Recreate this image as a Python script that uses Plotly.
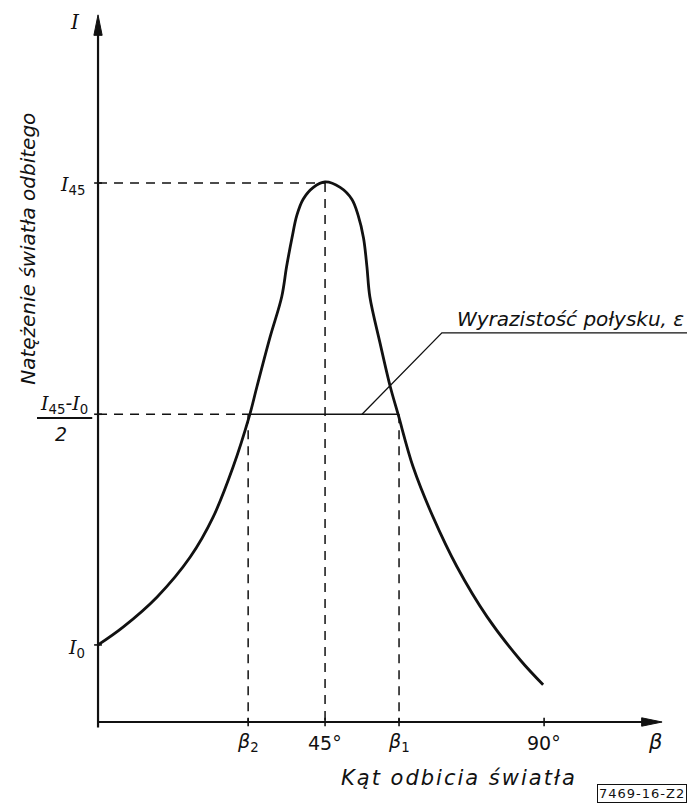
import plotly.graph_objects as go

# ---------------- data ----------------
beta_curve = [-1.64, 3.5, 10.5, 17.3, 22.0, 26.1, 29.4, 31.0, 33.7, 36.1, 37.1, 38.2, 39.2, 40.5, 42.6, 45.0,
              48.1, 50.5, 51.8, 52.9, 53.6, 54.2, 56.3, 58.4, 60.0, 63.1, 67.2, 72.1, 78.3, 85.1, 89.8]
I_curve = [0.143, 0.176, 0.232, 0.306, 0.380, 0.473, 0.566, 0.622, 0.714, 0.789, 0.845, 0.898, 0.940, 0.970, 0.992, 1.002,
           0.992, 0.970, 0.940, 0.898, 0.845, 0.789, 0.703, 0.622, 0.571, 0.473, 0.380, 0.288, 0.195, 0.115, 0.069]

x_tick_vals = [29.2, 45.0, 60.2, 90.0]
x_tick_text = ["<i>β</i><sub>2</sub>", "45°", "<i>β</i><sub>1</sub>", "90°"]

I0 = 0.143
I45 = 1.0
I_half = 0.571
beta2 = 29.2
beta_peak = 45.0
beta1 = 60.2

y_axis_x = -1.64
x_axis_end = 114.24
y_axis_top = 1.312

leader_x = [52.6, 69.0, 121.0]
leader_y = [I_half, 0.722, 0.722]

title_y = "Natężenie światła odbitego"
title_x = "Kąt odbicia światła"
leader_text = "Wyrazistość połysku, ε"
code_text = "7469-16-Z2"

FONT = "DejaVu Sans"
SERIF = "DejaVu Serif"
BLACK = "#111111"

XR = [-3.70, 121.0]
YR = [-0.01484, 1.3247]


def xp(v):
    return (v - XR[0]) / (XR[1] - XR[0])


def Ilab(sub):
    s = '<span style="font-family:%s"><i>I</i></span>' % SERIF
    if sub:
        s += "<sub>%s</sub>" % sub
    return s


def spaced(t, px):
    return '<span style="letter-spacing:%dpx"><i>%s</i></span>' % (px, t)


fig = go.Figure()

DASH = "9px,7px"
DL = dict(color=BLACK, width=1.5, dash=DASH)

# dashed guide lines
fig.add_trace(go.Scatter(x=[y_axis_x, beta_peak], y=[I45, I45], mode="lines", line=DL, hoverinfo="skip"))
fig.add_trace(go.Scatter(x=[beta_peak, beta_peak], y=[I45, 0], mode="lines", line=DL, hoverinfo="skip"))
fig.add_trace(go.Scatter(x=[y_axis_x, beta2], y=[I_half, I_half], mode="lines", line=DL, hoverinfo="skip"))
fig.add_trace(go.Scatter(x=[beta2, beta2], y=[I_half, 0], mode="lines", line=DL, hoverinfo="skip"))
fig.add_trace(go.Scatter(x=[beta1, beta1], y=[I_half, 0], mode="lines", line=DL, hoverinfo="skip"))

# solid half-width line
fig.add_trace(go.Scatter(x=[beta2, beta1], y=[I_half, I_half], mode="lines",
                         line=dict(color=BLACK, width=1.5), hoverinfo="skip"))

# leader line
fig.add_trace(go.Scatter(x=leader_x, y=leader_y, mode="lines",
                         line=dict(color=BLACK, width=1.3), hoverinfo="skip"))

# main curve
fig.add_trace(go.Scatter(x=beta_curve, y=I_curve, mode="lines",
                         line=dict(color=BLACK, width=2.8, shape="spline", smoothing=1.0),
                         hoverinfo="skip"))

# axes
fig.add_trace(go.Scatter(x=[y_axis_x, y_axis_x], y=[-0.01, y_axis_top - 0.03], mode="lines",
                         line=dict(color=BLACK, width=2.2), hoverinfo="skip"))
fig.add_trace(go.Scatter(x=[y_axis_x, x_axis_end - 3], y=[0, 0], mode="lines",
                         line=dict(color=BLACK, width=2.2), hoverinfo="skip"))

# tick marks
tx, ty = [], []
for v in x_tick_vals:
    tx += [v, v, None]
    ty += [-0.008, 0.008, None]
for v in [I0, I_half, I45]:
    tx += [y_axis_x - 0.8, y_axis_x + 0.8, None]
    ty += [v, v, None]
fig.add_trace(go.Scatter(x=tx, y=ty, mode="lines", line=dict(color=BLACK, width=1.6),
                         hoverinfo="skip"))

# arrowheads
shapes = [
    dict(type="path", xref="x", yref="y",
         path="M %f,%f L %f,%f L %f,%f Z" % (y_axis_x, y_axis_top, y_axis_x - 0.85, y_axis_top - 0.038,
                                            y_axis_x + 0.85, y_axis_top - 0.038),
         fillcolor=BLACK, line=dict(color=BLACK, width=1)),
    dict(type="path", xref="x", yref="y",
         path="M %f,%f L %f,%f L %f,%f Z" % (x_axis_end, 0, x_axis_end - 4.2, 0.0078,
                                            x_axis_end - 4.2, -0.0078),
         fillcolor=BLACK, line=dict(color=BLACK, width=1)),
    # fraction bar
    dict(type="line", xref="paper", yref="y", x0=-0.084, x1=0.007, y0=0.564, y1=0.564,
         line=dict(color=BLACK, width=1.8)),
]

ann = []
TF = dict(family=FONT, size=19, color=BLACK)
for v, t in zip(x_tick_vals, x_tick_text):
    ann.append(dict(x=xp(v), y=-0.018, xref="paper", yref="paper", text=t, showarrow=False,
                    font=TF, xanchor="center", yanchor="middle"))
ann.append(dict(x=0.934, y=-0.0166, xref="paper", yref="paper", text="<i>β</i>", showarrow=False,
                font=dict(family=FONT, size=21, color=BLACK), xanchor="center", yanchor="middle"))
ann.append(dict(x=-0.0214, y=1.0, xref="paper", yref="paper", text=Ilab(""), showarrow=False,
                font=dict(family=FONT, size=20, color=BLACK), xanchor="center", yanchor="top"))
ann.append(dict(x=y_axis_x, y=I45, xref="x", yref="y", text=Ilab("45"), showarrow=False,
                font=TF, xanchor="right", yanchor="middle", xshift=-11, yshift=-2))
ann.append(dict(x=y_axis_x, y=I0, xref="x", yref="y", text=Ilab("0"), showarrow=False,
                font=TF, xanchor="right", yanchor="middle", xshift=-11, yshift=-4))
ann.append(dict(x=-0.040, y=0.590, xref="paper", yref="y",
                text=Ilab("45") + "-" + Ilab("0"), showarrow=False,
                font=TF, xanchor="center", yanchor="middle"))
ann.append(dict(x=-0.045, y=0.534, xref="paper", yref="y", text="<i>2</i>", showarrow=False,
                font=TF, xanchor="center", yanchor="middle"))
ann.append(dict(x=-0.0988, y=0.878, xref="paper", yref="y", text="<i>" + title_y + "</i>",
                textangle=-90, showarrow=False, font=dict(family=FONT, size=20, color=BLACK),
                xanchor="center", yanchor="middle"))
ann.append(dict(x=0.611, y=-0.0665, xref="paper", yref="paper", text=spaced(title_x, 2),
                showarrow=False, font=dict(family=FONT, size=21, color=BLACK),
                xanchor="center", yanchor="middle"))
ann.append(dict(x=71.7, y=0.722, xref="x", yref="y", text="<i>" + leader_text + "</i>",
                showarrow=False, font=dict(family=FONT, size=20, color=BLACK),
                xanchor="left", yanchor="bottom", yshift=0))
ann.append(dict(x=0.9135, y=-0.0886, xref="paper", yref="paper", text=spaced(code_text, 1).replace("<i>", "").replace("</i>", ""),
                showarrow=False,
                font=dict(family=FONT, size=13, color=BLACK),
                xanchor="center", yanchor="middle", bordercolor=BLACK, borderwidth=1, borderpad=1))

# page body has an 8px margin: figure is offset by 8px, so size/margins compensate
fig.update_layout(
    width=687, height=796,
    margin=dict(l=80, r=0, t=0, b=74),
    paper_bgcolor="white", plot_bgcolor="white",
    showlegend=False,
    xaxis=dict(range=XR, visible=False, fixedrange=True),
    yaxis=dict(range=YR, visible=False, fixedrange=True),
    shapes=shapes, annotations=ann,
)

fig.write_html("out.html")
